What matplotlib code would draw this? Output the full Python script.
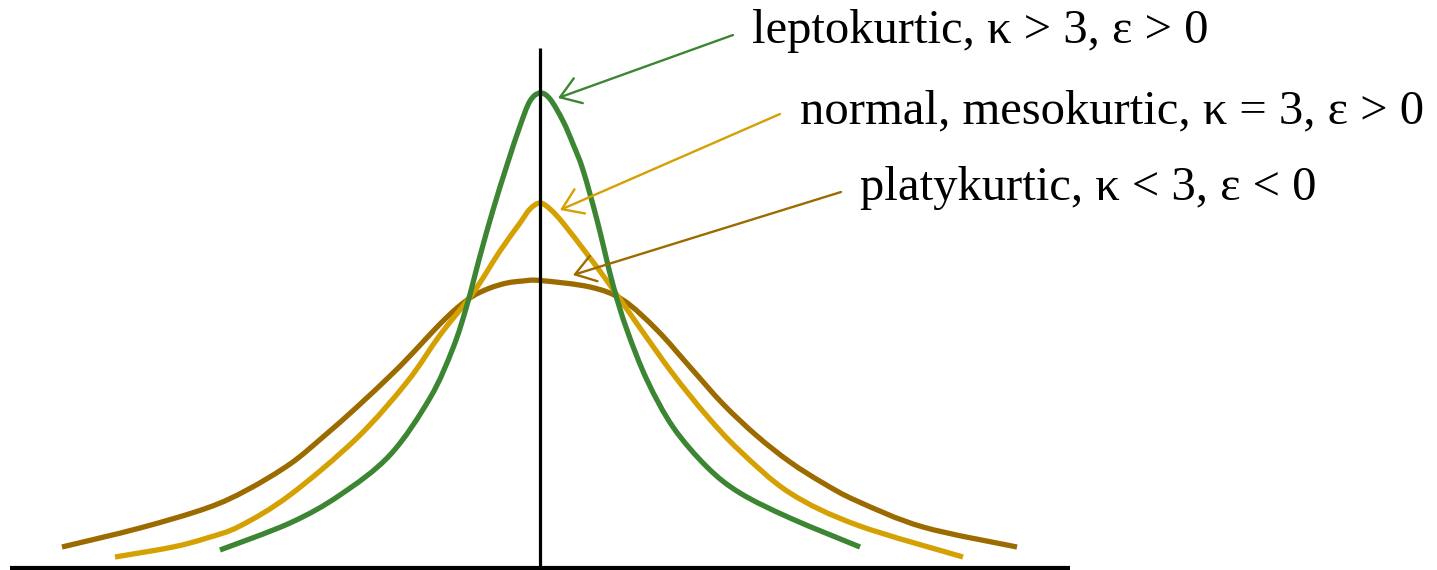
import matplotlib
matplotlib.use("Agg")
import matplotlib.pyplot as plt
from matplotlib.path import Path
from matplotlib.patches import PathPatch

# Curve samples: horizontal offset from the centre line, and height above the baseline
lepto_x = [-3.20, -2.50, -2.00, -1.50, -1.10, -0.87, -0.73, -0.60, -0.47, -0.33, -0.20, -0.10,
           0.00, 0.10, 0.23, 0.33, 0.43, 0.57, 0.73, 0.87, 1.07, 1.33, 1.67, 2.00, 2.50, 3.20]
lepto_y = [0.18, 0.45, 0.73, 1.13, 1.70, 2.20, 2.63, 3.12, 3.58, 4.03, 4.42, 4.67,
           4.75, 4.69, 4.47, 4.24, 3.98, 3.48, 2.83, 2.38, 1.88, 1.41, 1.01, 0.75, 0.50, 0.21]

meso_x = [-4.25, -3.67, -3.33, -3.00, -2.50, -1.83, -1.33, -1.00, -0.67, -0.40, -0.20, -0.10,
          0.00, 0.10, 0.23, 0.47, 0.70, 1.00, 1.33, 1.67, 2.00, 2.50, 3.17, 4.23]
meso_y = [0.11, 0.21, 0.30, 0.42, 0.73, 1.30, 1.86, 2.33, 2.75, 3.17, 3.45, 3.59,
          3.65, 3.59, 3.45, 3.14, 2.83, 2.40, 1.94, 1.52, 1.17, 0.75, 0.43, 0.11]

platy_x = [-4.78, -4.00, -3.33, -2.93, -2.50, -2.17, -1.83, -1.50, -1.33, -1.17, -1.00, -0.83,
           -0.67, -0.50, -0.33, -0.17, 0.00, 0.50, 0.83, 1.17, 1.50, 1.83, 2.17, 2.50, 2.83,
           3.17, 3.83, 4.77]
platy_y = [0.21, 0.40, 0.60, 0.78, 1.04, 1.31, 1.61, 1.92, 2.09, 2.26, 2.44, 2.60,
           2.72, 2.80, 2.85, 2.87, 2.875, 2.81, 2.68, 2.38, 2.01, 1.64, 1.32, 1.06, 0.85,
           0.67, 0.41, 0.21]

labels = ["leptokurtic, \u03ba > 3, \u03b5 > 0",
          "normal, mesokurtic, \u03ba = 3, \u03b5 > 0",
          "platykurtic, \u03ba < 3, \u03b5 < 0"]
label_pos = [(2.12, 5.25), (2.60, 4.45), (3.20, 3.68)]
arrow_from = [(1.93, 5.33), (2.40, 4.54), (3.01, 3.76)]
arrow_to = [(0.18, 4.70), (0.20, 3.58), (0.33, 2.93)]

green = "#3c8633"
gold = "#d4a002"
brown = "#9c6b00"
colors = [green, gold, brown]


def smooth_path(xs, ys):
    """Cubic Bezier path passing through every sample (Catmull-Rom tangents)."""
    pts = list(zip(xs, ys))
    verts = [pts[0]]
    codes = [Path.MOVETO]
    n = len(pts)
    for i in range(n - 1):
        p0 = pts[i - 1] if i > 0 else pts[i]
        p1 = pts[i]
        p2 = pts[i + 1]
        p3 = pts[i + 2] if i + 2 < n else pts[i + 1]
        c1 = (p1[0] + (p2[0] - p0[0]) / 6, p1[1] + (p2[1] - p0[1]) / 6)
        c2 = (p2[0] - (p3[0] - p1[0]) / 6, p2[1] - (p3[1] - p1[1]) / 6)
        verts += [c1, c2, p2]
        codes += [Path.CURVE4] * 3
    return Path(verts, codes)


fig = plt.figure(figsize=(14.37, 5.70), dpi=100)
ax = fig.add_axes([0, 0, 1, 1])
ax.set_xlim(-5.40, 8.97)
ax.set_ylim(-0.02, 5.68)
ax.axis("off")

# Axes drawn as plain lines
ax.plot([-5.30, 5.30], [0.0, 0.0], color="black", lw=3.0, solid_capstyle="butt")
ax.plot([0.0, 0.0], [0.0, 5.20], color="black", lw=2.3, solid_capstyle="butt")

for xs, ys, c in [(platy_x, platy_y, brown), (meso_x, meso_y, gold), (lepto_x, lepto_y, green)]:
    ax.add_patch(PathPatch(smooth_path(xs, ys), facecolor="none", edgecolor=c,
                           lw=3.8, joinstyle="round", capstyle="butt"))

for txt, pos, a_from, a_to, c in zip(labels, label_pos, arrow_from, arrow_to, colors):
    ax.text(pos[0], pos[1], txt, family="Liberation Serif", fontsize=35,
            ha="left", va="baseline", color="black")
    ax.annotate("", xy=a_to, xytext=a_from,
                arrowprops=dict(arrowstyle="->,head_length=1.4,head_width=0.95",
                                mutation_scale=10, color=c, lw=1.7,
                                shrinkA=0, shrinkB=0))

fig.savefig("out.png", dpi=100)
